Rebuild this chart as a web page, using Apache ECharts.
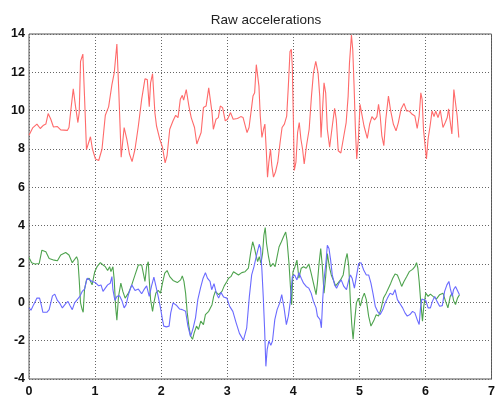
<!DOCTYPE html>
<html>
<head>
<meta charset="utf-8">
<script src="https://cdn.jsdelivr.net/npm/echarts@6/dist/echarts.min.js"></script>
<style>
html,body{margin:0;padding:0;background:#fff;}
#chart{width:498px;height:398px;}
</style>
</head>
<body>
<div id="chart"></div>
<script>
const titleText = "Raw accelerations";
const xTicks = [0, 1, 2, 3, 4, 5, 6, 7];
const yTicks = [-4, -2, 0, 2, 4, 6, 8, 10, 12, 14];

const redData = [
[0,8.72],[0.055,9.1],[0.12,9.3],[0.17,9.07],[0.22,9.24],[0.255,9.3],[0.29,9.85],[0.33,9.55],[0.37,9.15],[0.43,9.17],[0.48,9.0],[0.58,8.97],[0.605,9.12],[0.64,10.24],[0.67,11.14],[0.705,10.2],[0.74,9.38],[0.76,9.9],[0.78,12.57],[0.815,12.95],[0.84,10.76],[0.87,7.97],[0.895,8.0],[0.93,8.64],[0.96,8.0],[1.005,7.48],[1.055,7.4],[1.105,8.0],[1.155,9.76],[1.205,10.2],[1.255,11.36],[1.29,11.97],[1.33,13.48],[1.36,10.93],[1.395,7.57],[1.44,9.12],[1.48,8.52],[1.52,7.74],[1.56,7.34],[1.605,8.0],[1.655,9.2],[1.705,10.59],[1.755,11.66],[1.79,11.62],[1.82,10.2],[1.84,11.45],[1.87,11.93],[1.905,9.9],[1.93,9.2],[1.98,8.5],[2.02,8.09],[2.06,7.28],[2.09,7.66],[2.13,9.03],[2.18,9.47],[2.22,9.76],[2.255,9.64],[2.29,10.59],[2.32,10.8],[2.34,10.55],[2.38,11.1],[2.42,10.24],[2.455,9.64],[2.505,9.12],[2.54,8.26],[2.57,8.17],[2.605,8.86],[2.64,10.16],[2.68,10.24],[2.72,11.19],[2.745,11.19],[2.77,9.9],[2.79,9.03],[2.83,9.55],[2.865,9.64],[2.895,10.24],[2.93,10.16],[2.97,9.47],[3.005,9.55],[3.05,9.9],[3.09,9.55],[3.155,9.59],[3.205,9.69],[3.24,9.64],
[3.265,9.55],[3.3,8.86],[3.33,9.12],[3.365,10.07],[3.39,10.76],[3.415,10.93],[3.44,12.4],[3.455,12.48],[3.48,11.28],[3.5,9.72],[3.525,8.6],[3.55,9.03],[3.57,9.3],[3.59,8.0],[3.61,6.53],[3.63,7.31],[3.655,8.0],[3.675,7.14],[3.7,6.53],[3.73,6.8],[3.765,7.31],[3.8,8.34],[3.83,9.12],[3.865,9.3],[3.9,9.72],[3.925,11.28],[3.95,13.09],[3.97,13.2],[3.985,12.3],[4.0,9.72],[4.015,6.88],[4.04,7.31],[4.065,8.86],[4.09,9.38],[4.115,8.52],[4.14,8.0],[4.165,7.22],[4.2,8.17],[4.24,9.03],[4.275,10.76],[4.305,11.97],[4.34,12.57],[4.375,11.97],[4.4,10.76],[4.42,8.6],[4.44,9.9],[4.465,11.45],[4.49,10.93],[4.515,9.03],[4.55,8.09],[4.59,9.2],[4.625,10.12],[4.65,9.55],[4.68,7.91],[4.72,7.79],[4.765,8.69],[4.8,9.38],[4.83,10.76],[4.85,12.48],[4.88,13.95],[4.9,13.17],[4.92,11.28],[4.94,9.03],[4.96,7.48],[4.985,8.52],[5.01,10.33],[5.04,10.24],[5.07,9.2],[5.12,8.55],[5.155,9.29],[5.19,9.69],[5.23,9.52],[5.265,9.69],[5.29,10.33],[5.315,9.72],[5.34,8.69],[5.37,8.17],[5.4,9.55],[5.44,10.76],[5.47,10.07],[5.515,9.29],[5.555,8.95],[5.59,9.38],[5.63,10.07],[5.675,10.38],[5.715,9.98],[5.755,9.98],[5.8,9.81],[5.84,9.72],[5.875,9.07],[5.905,9.72],[5.93,10.93],[5.95,10.59],[5.97,9.03],[6.0,8.0],[6.015,7.48],[6.04,8.52],[6.07,9.2],[6.1,9.98],[6.13,9.69],[6.155,9.98],[6.19,9.64],[6.225,10.02],[6.265,9.12],[6.3,9.38],[6.33,9.64],[6.35,10.1],[6.37,9.55],[6.4,8.78],[6.43,11.1],[6.45,11.02],[6.48,9.72],[6.505,8.6]
];

const greenData = [
[0,2.34],[0.04,2.07],[0.09,2.0],[0.155,2.03],[0.195,2.72],[0.255,2.64],[0.305,2.29],[0.38,2.2],[0.43,2.17],[0.48,2.47],[0.555,2.6],[0.605,2.47],[0.655,2.07],[0.68,2.07],[0.72,2.38],[0.74,2.2],[0.76,1.17],[0.78,-0.03],[0.805,-0.38],[0.82,-0.52],[0.84,0.66],[0.87,1.17],[0.91,1.26],[0.955,0.91],[0.995,1.6],[1.03,1.86],[1.08,2.07],[1.12,1.95],[1.155,1.86],[1.19,1.66],[1.22,1.86],[1.24,1.6],[1.27,1.86],[1.29,1.17],[1.31,-0.2],[1.33,-0.93],[1.355,0.31],[1.39,1.0],[1.42,0.57],[1.455,0.22],[1.505,0.48],[1.555,0.91],[1.605,1.43],[1.655,1.95],[1.705,1.95],[1.73,1.52],[1.755,1.09],[1.78,1.86],[1.805,2.12],[1.82,1.17],[1.84,0.14],[1.87,-0.47],[1.89,-0.03],[1.92,0.48],[1.955,0.62],[1.99,0.48],[2.02,1.0],[2.055,1.52],[2.09,1.66],[2.13,1.34],[2.18,1.14],
[2.245,1.03],[2.295,1.17],[2.32,1.38],[2.345,1.09],[2.37,0.48],[2.395,-0.55],[2.42,-1.24],[2.445,-1.76],[2.475,-1.93],[2.5,-1.59],[2.535,-1.24],[2.565,-1.41],[2.6,-0.98],[2.64,-1.16],[2.67,-0.64],[2.72,-0.47],[2.77,-0.12],[2.795,0.31],[2.82,0.57],[2.87,0.4],[2.92,0.57],[2.955,0.86],[2.995,1.09],[3.02,1.26],[3.055,1.34],[3.095,1.6],[3.12,1.52],[3.17,1.43],[3.22,1.55],[3.27,1.6],[3.32,1.78],[3.355,2.59],[3.385,3.16],[3.41,2.86],[3.435,2.47],[3.46,2.12],[3.485,2.38],[3.51,2.03],[3.535,2.55],[3.555,3.5],[3.575,3.9],[3.595,3.07],[3.625,2.38],[3.655,1.86],[3.695,2.03],[3.725,1.86],[3.755,2.38],[3.785,2.9],[3.82,3.16],[3.855,3.45],[3.885,3.67],[3.905,3.24],[3.935,2.03],[3.955,0.91],[3.975,-0.12],[3.995,1.6],[4.025,1.86],[4.055,2.2],[4.085,1.26],[4.12,1.78],[4.155,1.86],[4.195,1.78],[4.235,2.0],[4.27,1.52],[4.305,1.0],[4.345,0.4],
[4.365,1.0],[4.39,2.03],[4.415,2.81],[4.44,1.86],[4.465,0.48],[4.49,1.34],[4.515,2.55],[4.545,1.86],[4.575,1.43],[4.615,1.09],[4.64,0.86],[4.675,1.0],[4.715,1.17],[4.755,1.43],[4.79,2.2],[4.815,2.55],[4.84,1.86],[4.865,-0.03],[4.885,-1.16],[4.905,-1.93],[4.93,-0.9],[4.955,-0.03],[4.985,0.22],[5.015,-0.2],[5.045,0.22],[5.075,0.48],[5.105,0.14],[5.14,-0.72],[5.175,-1.24],[5.215,-0.98],[5.255,-0.64],[5.29,-0.72],[5.325,-0.38],[5.365,0.22],[5.405,0.48],[5.44,0.74],[5.475,1.0],[5.505,1.26],[5.54,1.48],[5.575,1.43],[5.605,1.17],[5.64,0.83],[5.675,1.09],[5.715,1.34],[5.755,1.6],[5.805,1.72],[5.84,1.86],[5.865,2.07],[5.885,1.78],[5.905,1.09],[5.93,-0.03],[5.955,-0.98],[5.975,-0.2],[6.005,0.48],[6.04,0.31],[6.075,0.43],[6.115,0.31],[6.165,0.17],[6.215,0.4],[6.265,0.48],[6.305,0.05],[6.34,-0.29],[6.375,0.31],[6.405,0.48],[6.425,0.1],[6.455,-0.12],[6.485,0.22],[6.515,0.4]
];

const blueData = [
[0,-0.29],[0.03,-0.41],[0.07,-0.12],[0.12,0.22],[0.16,0.22],[0.19,-0.2],[0.21,-0.52],[0.27,-0.52],[0.305,-0.38],[0.355,0.34],[0.39,0.43],[0.43,0.1],[0.47,-0.07],[0.505,-0.29],[0.555,-0.07],[0.59,0.05],[0.62,-0.17],[0.655,-0.38],[0.69,-0.03],[0.73,0.14],[0.77,0.31],[0.805,0.57],[0.84,0.69],[0.88,1.26],[0.91,1.31],[0.955,1.09],[1.005,1.03],[1.055,0.86],[1.09,0.91],[1.12,0.57],[1.155,0.74],[1.19,0.91],[1.23,1.0],[1.255,1.34],[1.27,0.66],[1.3,0.1],[1.33,0.31],[1.37,0.34],[1.405,0.1],[1.44,-0.29],[1.47,-0.12],[1.505,0.4],[1.555,0.91],[1.605,0.62],[1.655,0.69],[1.705,0.45],[1.74,0.66],[1.78,0.86],[1.82,0.31],[1.855,0.86],[1.89,1.31],[1.92,0.86],[1.955,0.31],[1.99,-0.29],[2.02,-0.9],[2.04,-1.24],[2.08,-1.28],[2.12,-1.24],[2.145,-0.55],[2.18,-0.03],
[2.23,-0.15],[2.28,-0.35],[2.32,-0.38],[2.37,-0.47],[2.405,-1.24],[2.445,-1.79],[2.485,-1.33],[2.52,-0.81],[2.555,0.14],[2.595,0.74],[2.635,1.26],[2.67,1.55],[2.7,1.26],[2.74,1.09],[2.765,0.66],[2.8,0.97],[2.835,0.48],[2.87,0.22],[2.905,0.52],[2.945,0.28],[2.995,0.22],[3.035,-0.2],[3.085,-0.47],[3.135,-1.07],[3.185,-1.62],[3.245,-1.98],[3.295,-1.33],[3.335,0.31],[3.37,1.43],[3.405,1.86],[3.445,2.47],[3.485,3.03],[3.505,2.81],[3.525,1.69],[3.545,0.31],[3.565,-1.33],[3.585,-3.34],[3.605,-2.45],[3.63,-2.02],[3.66,-2.24],[3.685,-2.02],[3.72,-0.9],[3.755,-0.38],[3.795,-0.03],[3.825,0.4],[3.86,-0.29],[3.895,-1.16],[3.925,-0.72],[3.955,0.05],[3.985,1.34],[4.02,1.43],[4.055,1.17],[4.085,1.55],[4.12,1.26],[4.155,1.0],[4.195,0.83],[4.235,0.74],[4.27,0.48],[4.305,0.05],[4.345,-0.29],
[4.365,-0.72],[4.405,-0.9],[4.425,-1.33],[4.445,0.14],[4.465,1.17],[4.495,2.12],[4.515,2.98],[4.54,2.81],[4.565,2.2],[4.59,1.43],[4.625,0.91],[4.655,0.74],[4.69,1.0],[4.725,1.17],[4.765,0.83],[4.805,0.66],[4.84,1.17],[4.865,1.43],[4.89,1.26],[4.925,0.74],[4.955,1.34],[4.99,2.03],[5.025,2.07],[5.065,1.69],[5.105,1.43],[5.14,1.43],[5.175,1.0],[5.205,0.48],[5.24,-0.2],[5.275,-0.47],[5.315,-0.64],[5.355,-0.38],[5.39,-0.03],[5.425,0.22],[5.465,0.48],[5.505,0.4],[5.54,0.66],[5.575,0.14],[5.615,-0.07],[5.655,-0.29],[5.69,-0.55],[5.725,-0.72],[5.765,-0.64],[5.805,-0.47],[5.84,-0.55],[5.875,-0.9],[5.905,-1.16],[5.925,-0.29],[5.945,0.17],[5.965,0.22],[6.005,0.1],[6.04,-0.29],[6.075,-0.29],[6.105,0.05],[6.14,0.31],[6.175,0.05],[6.215,-0.2],[6.255,-0.17],[6.29,0.57],[6.325,0.91],[6.355,1.09],[6.375,0.74],[6.405,0.31],[6.425,0.66],[6.455,0.83],[6.485,0.86],[6.515,0.4]
];

const chart = echarts.init(document.getElementById('chart'), null, {renderer: 'canvas'});
const axisLabelStyle = {color: '#111', fontSize: 12.5, fontFamily: 'Liberation Sans, Arial, sans-serif', fontWeight: 'bold'};
const gridLine = {show: true, lineStyle: {color: '#666', type: [1, 2], width: 1}};
chart.setOption({
  animation: false,
  backgroundColor: '#ffffff',
  title: {
    text: titleText, left: 261, top: 8, textAlign: 'center',
    textStyle: {fontSize: 13.5, fontWeight: 'normal', color: '#222', fontFamily: 'Liberation Sans, Arial, sans-serif'}
  },
  grid: {left: 29, right: 3, top: 34, bottom: 17, show: true, borderColor: '#555', borderWidth: 1, containLabel: false},
  xAxis: {
    type: 'value', min: xTicks[0], max: xTicks[xTicks.length - 1], interval: 1,
    axisLine: {show: false}, axisTick: {show: false},
    axisLabel: Object.assign({margin: 6}, axisLabelStyle),
    splitLine: gridLine
  },
  yAxis: {
    type: 'value', min: yTicks[0], max: yTicks[yTicks.length - 1], interval: 2,
    axisLine: {show: false}, axisTick: {show: false},
    axisLabel: Object.assign({margin: 4}, axisLabelStyle),
    splitLine: gridLine
  },
  series: [
    {type: 'line', data: redData, showSymbol: false, smooth: false, lineStyle: {color: '#ff6a6a', width: 1.1}},
    {type: 'line', data: greenData, showSymbol: false, smooth: false, lineStyle: {color: '#4ea34e', width: 1.1}},
    {type: 'line', data: blueData, showSymbol: false, smooth: false, lineStyle: {color: '#6a6aff', width: 1.1}}
  ]
});
</script>
</body>
</html>
